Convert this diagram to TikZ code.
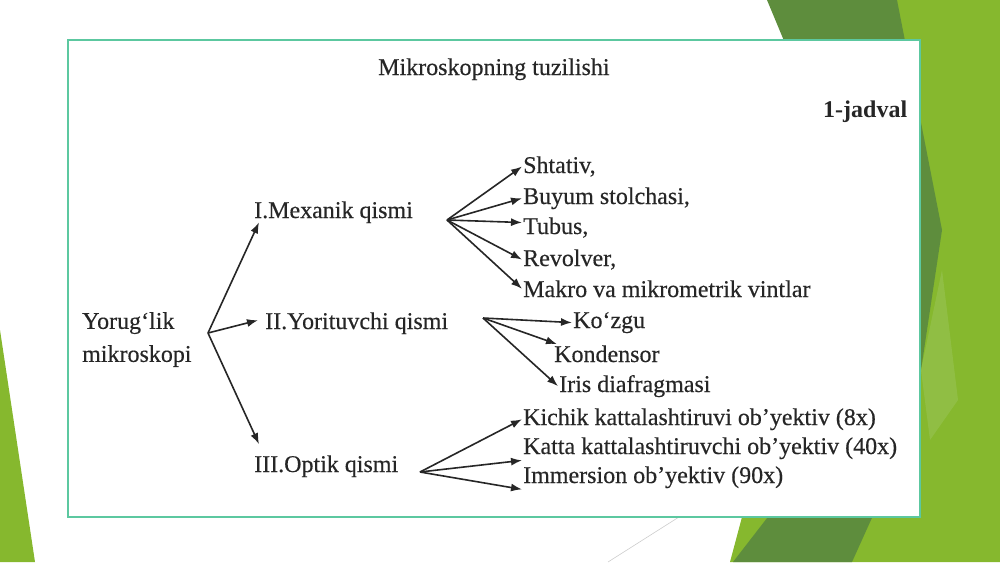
\documentclass[tikz,border=0pt]{standalone}
\usepackage{fontspec}
\setmainfont{Liberation Serif}
\newfontfamily\slidefont[FakeBold=0.35]{Liberation Serif}
\usetikzlibrary{arrows.meta}
\definecolor{facetdark}{HTML}{5E8D3D}
\definecolor{facetlight}{HTML}{86B82E}
\definecolor{facetpale}{HTML}{A5CC6E}
\definecolor{framegreen}{HTML}{5CC8A0}

\begin{document}
\begin{tikzpicture}[x=1pt,y=-1pt,
    txt/.style={anchor=base west,inner sep=1pt,text=black!85,font=\slidefont\fontsize{24}{33}\selectfont},
    arr/.style={-{Latex[length=11pt,width=8pt]},line width=1.6pt,black!85}]
  \useasboundingbox (0,0) rectangle (1000,562);

  \fill[facetlight] (880,0) -- (1000,0) -- (1000,562) -- (730,562) -- cycle;
  \fill[facetdark] (767,0) -- (897,0) -- (942,230) -- (921,370) -- cycle;
  \fill[facetdark] (733,562) -- (852,562) -- (880,500) -- (781,500) -- cycle;
  \fill[facetpale,opacity=0.35] (921,370) -- (942,270) -- (958,400) -- (930,440) -- cycle;
  \fill[facetlight] (0,330) -- (35,562) -- (0,562) -- cycle;
  \draw[black!20,line width=0.6pt] (608,562) -- (690,510);

  \draw[framegreen,fill=white,line width=1.2pt] (68,40) rectangle (920,517);

  \node[txt] (title) at (377,75) {Mikroskopning tuzilishi};
  \node[txt,font=\fontsize{24}{29}\selectfont\bfseries] (jadval) at (822,117) {1-jadval};

  \node[txt,align=left,anchor=north west] (yor) at (81,311) {Yorug‘lik\\mikroskopi};

  \node[txt] (mex) at (253,218) {I.Mexanik qismi};
  \node[txt] (yrt) at (264,329) {II.Yorituvchi qismi};
  \node[txt] (opt) at (253,472) {III.Optik qismi};

  \node[txt] (sht) at (522,173) {Shtativ,};
  \node[txt] (buy) at (522,204) {Buyum stolchasi,};
  \node[txt] (tub) at (522,234) {Tubus,};
  \node[txt] (rev) at (522,266) {Revolver,};
  \node[txt] (mak) at (522,297) {Makro va mikrometrik vintlar};

  \node[txt] (koz) at (572,328) {Ko‘zgu};
  \node[txt] (kon) at (553,362) {Kondensor};
  \node[txt] (iri) at (558,392) {Iris diafragmasi};

  \node[txt] (kic) at (522,425) {Kichik kattalashtiruvi ob’yektiv (8x)};
  \node[txt] (kat) at (522,454) {Katta kattalashtiruvchi ob’yektiv (40x)};
  \node[txt] (imm) at (522,483) {Immersion ob’yektiv (90x)};

  \coordinate (yorfan) at (208,333);
  \coordinate (mexfan) at (447,220);
  \coordinate (yrtfan) at (483,318);
  \coordinate (optfan) at (420,472);

  \draw[arr] (yorfan) -- ([xshift=6pt,yshift=2pt]mex.south west);
  \draw[arr] (yorfan) -- ([xshift=-6pt,yshift=3pt]yrt.west);
  \draw[arr] (yorfan) -- ([xshift=6pt,yshift=10pt]opt.north west);

  \draw[arr] (mexfan) -- (sht.west);
  \draw[arr] (mexfan) -- (buy.west);
  \draw[arr] (mexfan) -- ([yshift=5pt]tub.west);
  \draw[arr] (mexfan) -- (rev.west);
  \draw[arr] (mexfan) -- (mak.west);

  \draw[arr] (yrtfan) -- (koz.west);
  \draw[arr] (yrtfan) -- ([xshift=4pt]kon.north west);
  \draw[arr] (yrtfan) -- (iri.west);

  \draw[arr] (optfan) -- (kic.west);
  \draw[arr] (optfan) -- (kat.south west);
  \draw[arr] (optfan) -- (imm.south west);
\end{tikzpicture}
\end{document}
